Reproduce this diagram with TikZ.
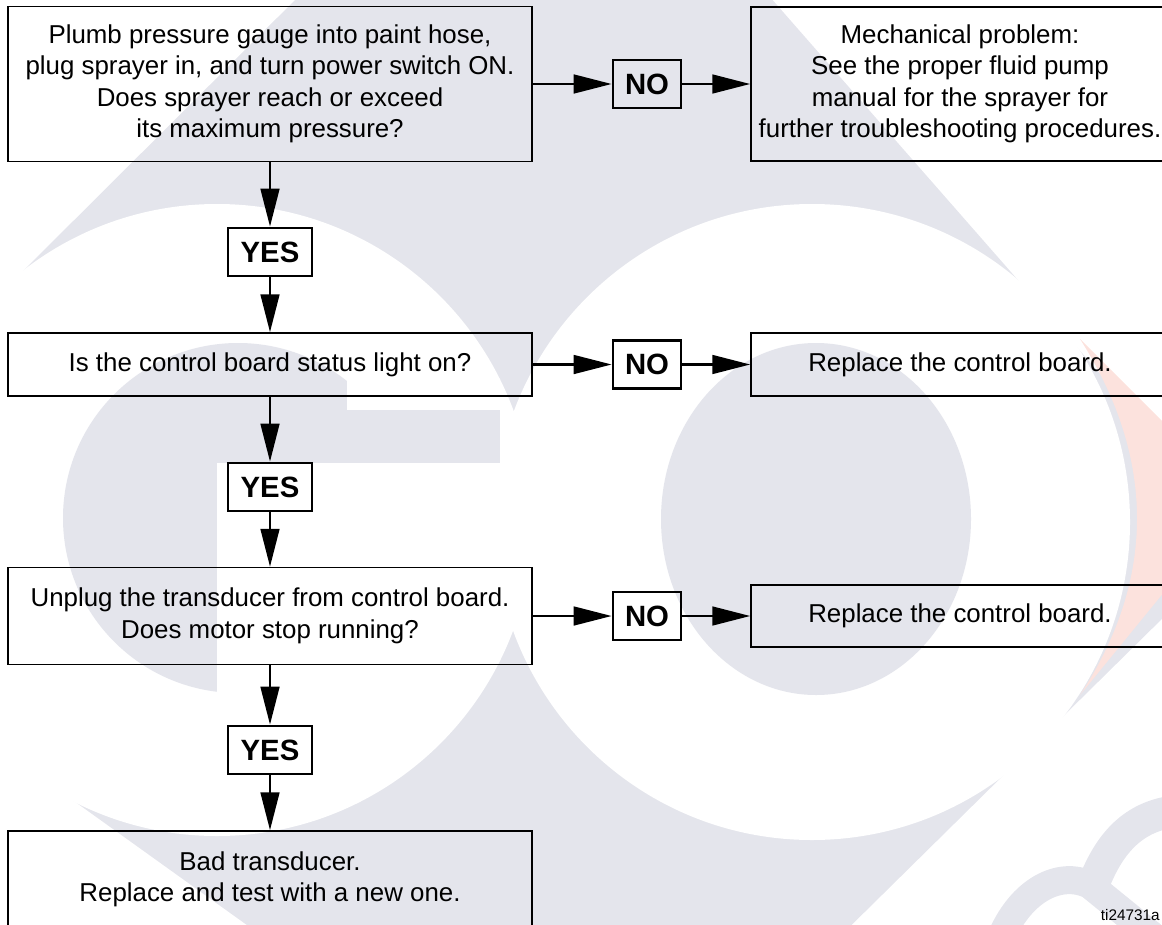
\documentclass[tikz,border=0pt]{standalone}
\usepackage{fontspec}
\setmainfont{Liberation Sans}
\usepackage{tikz}
\usetikzlibrary{arrows.meta}
\definecolor{markgrey}{RGB}{228,229,236}
\definecolor{markred}{RGB}{252,226,221}

\begin{document}
\begin{tikzpicture}[
  x=0.75pt, y=-0.75pt,
  every node/.style={font=\fontsize{19.4}{23.6}\selectfont},
  askbox/.style={rectangle, draw=black, line width=1.1pt, align=center,
                 minimum width=393pt, inner sep=0pt},
  fixbox/.style={rectangle, draw=black, line width=1.1pt, align=center,
                 minimum width=313.5pt, inner sep=0pt},
  tagbox/.style={rectangle, draw=black, line width=2pt, inner sep=0pt,
                 minimum height=36pt, font=\fontsize{22}{26}\selectfont\bfseries},
  flowarrow/.style={line width=2pt, -{Triangle[length=28.5pt, width=14pt]}}
]
  \useasboundingbox (0,0) rectangle (1162,924);
  \clip (0,0) rectangle (1162,924);
  % watermark behind the chart
  \fill[markgrey] (550,-254) -- (1244,538) -- (597,1176) -- (-265,558) -- cycle;
  \fill[white] (217,520) circle[radius=316];
  \fill[white] (812,522) circle[radius=318];
  \fill[markgrey] (238,518) circle[radius=175];
  \fill[white] (347,330) rectangle (425,410);
  \fill[white] (217,463) rectangle (425,700);
  \fill[markgrey] (217,410) rectangle (500,463);
  \fill[markgrey] (816,519) ellipse[x radius=155, y radius=176];
  \fill[markred] (1080,339) -- (1240,499) -- (1080,695)
    .. controls (1156,580) and (1156,458) .. (1080,339) -- cycle;
  \draw[markgrey, line width=21pt] (1000,940) .. controls (1020,890) and (1060,870) .. (1090,885) -- (1170,950);
  \draw[markgrey, line width=24pt] (1096,878) .. controls (1112,840) and (1135,818) .. (1170,812);

  % questions
  \node[askbox, minimum height=116.25pt] (q1) at (270,84)
    {Plumb pressure gauge into paint hose,\\plug sprayer in, and turn power switch ON.\\Does sprayer reach or exceed\\its maximum pressure?};
  \node[askbox, minimum height=47.25pt] (q2) at (270,364.5) {Is the control board status light on?};
  \node[askbox, minimum height=72.75pt] (q3) at (270,616)
    {Unplug the transducer from control board.\\Does motor stop running?};
  \node[askbox, minimum height=72.75pt] (q4) at (270,879.5)
    {Bad transducer.\\Replace and test with a new one.};

  % remedies
  \node[fixbox, minimum height=115.5pt] (r1) at (960,84)
    {Mechanical problem:\\See the proper fluid pump\\manual for the sprayer for\\further troubleshooting procedures.};
  \node[fixbox, minimum height=47.25pt] (r2) at (960,364.5) {Replace the control board.};
  \node[fixbox, minimum height=46.5pt] (r3) at (960,616) {Replace the control board.};

  % answers
  \node[tagbox, minimum width=63pt] (y1) at (270,252) {YES};
  \node[tagbox, minimum width=63pt] (y2) at (270,487) {YES};
  \node[tagbox, minimum width=63pt] (y3) at (270,750) {YES};
  \node[tagbox, minimum width=51pt] (n1) at (647,84) {NO};
  \node[tagbox, minimum width=51pt] (n2) at (647,364.5) {NO};
  \node[tagbox, minimum width=51pt] (n3) at (647,616) {NO};

  \draw[flowarrow] (q1.south) -- (y1.north);
  \draw[flowarrow] (y1.south) -- (q2.north);
  \draw[flowarrow] (q2.south) -- (y2.north);
  \draw[flowarrow] (y2.south) -- (q3.north);
  \draw[flowarrow] (q3.south) -- (y3.north);
  \draw[flowarrow] (y3.south) -- (q4.north);
  \draw[flowarrow] (q1.east) -- (n1.west);
  \draw[flowarrow] (n1.east) -- (r1.west);
  \draw[flowarrow] (q2.east) -- (n2.west);
  \draw[flowarrow] (n2.east) -- (r2.west);
  \draw[flowarrow] (q3.east) -- (n3.west);
  \draw[flowarrow] (n3.east) -- (r3.west);

  \node[anchor=base east, inner sep=0pt, font=\fontsize{11.5}{13}\selectfont] (tag) at (1160,920) {ti24731a};
\end{tikzpicture}
\end{document}
